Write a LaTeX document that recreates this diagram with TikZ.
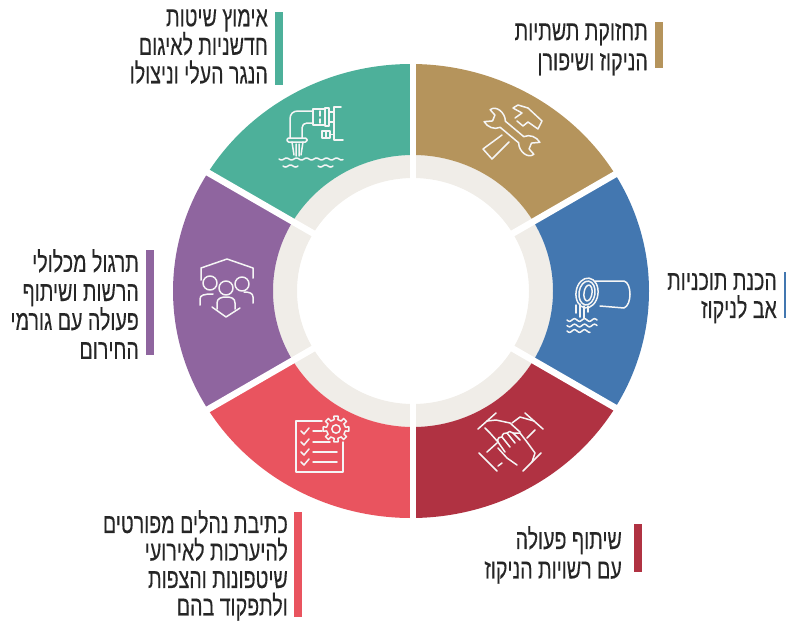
\documentclass[tikz,border=0pt]{standalone}
\usepackage{fontspec}
\TeXXeTstate=1
\newfontfamily\hebfont[Script=Hebrew,FakeStretch=0.7,FakeBold=0.2]{Liberation Sans}
\definecolor{cgold}{HTML}{B5945C}
\definecolor{cblue}{HTML}{4377B0}
\definecolor{cdred}{HTML}{B03242}
\definecolor{ccoral}{HTML}{E9545F}
\definecolor{cpurple}{HTML}{8F659F}
\definecolor{cteal}{HTML}{4DB09A}
\definecolor{cbeige}{HTML}{F0EDE8}
\definecolor{ctext}{HTML}{262626}
\newcommand{\hl}[1]{\beginR #1\endR}
% colour, inner start/end angle, outer start/end angle
\newcommand{\segm}[5]{\fill[#1] ([xshift=-2pt]#4:238 and 227) arc[start angle=#4,end angle=#5,x radius=238,y radius=227] -- (#3:140 and 136) arc[start angle=#3,end angle=#2,x radius=140,y radius=136] -- cycle;}
\newcommand{\wavy}[4]{\draw plot[domain=0:#3,samples=50] ({#1+\x},{#2+#4*sin(\x*36)});}
\tikzset{
  lab/.style={anchor=north east,inner sep=0pt,align=right,text=ctext},
  ico/.style={draw=white!92!gray,line width=1.5pt,line join=round,line cap=round},
  gapline/.style={draw=white,line width=6.5pt}
}
\begin{document}
\begin{tikzpicture}[x=1pt,y=1pt]
\useasboundingbox (0,0) rectangle (786,-621);
% wheel
\begin{scope}[shift={(413,-291)}]
\fill[cbeige,even odd rule] (0,0) ellipse[x radius=140,y radius=136] (0,0) ellipse[x radius=116,y radius=113];
\segm{cgold}{30}{90}{31}{90}
\segm{cblue}{-30}{30}{-31}{31}
\segm{cdred}{-90}{-30}{-90}{-31}
\segm{ccoral}{-150}{-90}{-148.5}{-90}
\segm{cpurple}{150}{210}{148.5}{211.5}
\segm{cteal}{90}{150}{90}{148.5}
\foreach \a in {30,90,150,210,270,330} \draw[gapline] (\a:100) -- (\a:260);
\end{scope}
% bars
\fill[cgold] (655,-22) rectangle (663,-68);
\fill[cteal] (275,-12) rectangle (283,-85);
\fill[cblue] (784,-272) rectangle (786,-318);
\fill[cpurple] (146,-250) rectangle (154,-355);
\fill[cdred] (634,-524) rectangle (642,-572);
\fill[ccoral] (294,-512) rectangle (302,-617);
% labels
\node[lab,font=\hebfont\fontsize{28}{30}\selectfont] (t1) at (648,-23) {\hl{תחזוקת תשתיות}\\\hl{הניקוז ושיפורן}};
\node[lab,font=\hebfont\fontsize{28}{28.5}\selectfont] (t2) at (268,-9) {\hl{אימוץ שיטות}\\\hl{חדשניות לאיגום}\\\hl{הנגר העלי וניצולו}};
\node[lab,font=\hebfont\fontsize{28}{28}\selectfont] (t3) at (777,-273) {\hl{הכנת תוכניות}\\\hl{אב לניקוז}};
\node[lab,font=\hebfont\fontsize{28}{29}\selectfont] (t4) at (139,-249) {\hl{תרגול מכלולי}\\\hl{הרשות ושיתוף}\\\hl{פעולה עם גורמי}\\\hl{החירום}};
\node[lab,font=\hebfont\fontsize{28}{29.5}\selectfont] (t5) at (622,-526) {\hl{שיתוף פעולה}\\\hl{עם רשויות הניקוז}};
\node[lab,font=\hebfont\fontsize{28}{27.5}\selectfont] (t6) at (288,-510) {\hl{כתיבת נהלים מפורטים}\\\hl{להיערכות לאירועי}\\\hl{שיטפונות והצפות}\\\hl{ולתפקוד בהם}};
% icons, pixel coordinates
\begin{scope}[x=1pt,y=-1pt,ico]
% tools: wrench
\begin{scope}[shift={(512,132)},rotate=-40]
\draw (-12,-4) -- (12,-4) .. controls (15,-10) and (22,-12) .. (28,-10) -- (22,-4) -- (24,2) -- (31,3) .. controls (30,10) and (18,11) .. (12,4) -- (-12,4) .. controls (-15,10) and (-22,12) .. (-28,10) -- (-22,4) -- (-24,-2) -- (-31,-3) .. controls (-30,-10) and (-18,-11) .. (-12,-4) -- cycle;
\end{scope}
% tools: hammer
\draw (502,135) -- (483,149) -- (492,159) -- (509,142);
\draw (515,118) -- (522,113) -- (513,108) -- (518,105) -- (528,108) -- (542,121) -- (538,129) -- (528,122) -- (523,126) -- (517,121);
% drain pipe (blue)
\draw[rotate around={-8:(587,293)}] (587,293) ellipse[x radius=11,y radius=15];
\draw[rotate around={-8:(587,293)}] (587,293) ellipse[x radius=8,y radius=12];
\draw[rotate around={-8:(588,293)}] (588,293) ellipse[x radius=4,y radius=8];
\draw (595,281) -- (624,281) .. controls (632,283) and (632,305) .. (624,308) -- (600,306);
\draw (580,304) -- (580,317) (584,306) -- (584,318) (576,305) -- (576,313) (588,306) -- (588,312);
\wavy{567}{320}{30}{1.3}
\wavy{567}{325.5}{30}{1.3}
\wavy{567}{331}{23}{1.3}
% hands (dark red)
\draw (478,429) -- (496,413) (525,413) -- (543,429) (479,453) -- (497,471) (523,471) -- (541,453);
\draw (487,421) -- (496,420) -- (510,423) -- (520,432);
\draw (485,428) -- (490,433) -- (498,442);
\draw (534,421) -- (520,417) -- (512,423) (535,430) -- (527,438);
\draw (532,462) -- (535,453) -- (527,442) -- (520,433);
\draw (517,465) -- (507,458) -- (498,448);
\draw (487,452) -- (497,443) (502,463) -- (498,466);
\draw (498,442) .. controls (497,438) and (500,436) .. (502,437) .. controls (502,434) and (505,432) .. (507,433) .. controls (508,431) and (511,431) .. (513,433) -- (520,433);
\draw (498,442) -- (505,452) (502,437) -- (510,447) (507,433) -- (515,443) (513,433) -- (520,440);
% checklist (coral)
\draw (322,421) -- (296,421) -- (296,472) -- (343,472) -- (343,442);
\foreach \yy/\xe in {431/322,442/330,452/337,462/337}{
  \draw (301,\yy) -- (304,\yy+3) -- (309,\yy-3);
  \draw (313,\yy) -- (\xe,\yy);
}
\begin{scope}[shift={(336,429)},y=1pt]
\foreach \r in {0,45,...,315}{
  \begin{scope}[rotate=\r]
  \draw (-12:9.5) -- (-9:13) -- (9:13) -- (12:9.5) arc[start angle=12,end angle=33,radius=9.5];
  \end{scope}
}
\draw (0,0) circle[radius=4.2];
\end{scope}
% people and shield (purple)
\draw (201,280) -- (201,268) -- (227,259) -- (253,268) -- (253,278);
\draw (210,283) circle[radius=7] (226,288) circle[radius=7] (242,284) circle[radius=7];
\draw (200,305) -- (200,299) .. controls (200,295) and (204,294) .. (213,294);
\draw (253,303) -- (253,297) .. controls (253,293) and (249,292) .. (244,292);
\draw (217,309) -- (217,303) .. controls (217,298) and (222,297) .. (226,297) .. controls (231,297) and (235,298) .. (235,303) -- (235,309);
\draw (212,307) -- (226,317) -- (240,308);
% discharge pipe (teal)
\draw (290,138) -- (290,119) .. controls (290,114) and (293,111) .. (298,111) -- (313,111);
\draw (302,138) -- (302,128) .. controls (302,125) and (304,123) .. (307,123) -- (313,123);
\draw[rounded corners=1.5pt] (287,138) rectangle (307,142);
\draw (313,109) rectangle (325,125);
\draw (325,108) rectangle (329,126);
\draw (320,111) -- (320,116) (320,119) -- (320,123);
\draw (341,107) -- (334,107) -- (334,140) -- (343,140);
\draw (329,112) -- (334,112) (329,122) -- (334,122);
\draw (322,131) rectangle (330,138);
\draw (326,131) -- (326,138) (330,134.5) -- (334,134.5);
\draw (292,142) -- (294,155) (303,142) -- (301,155) (296,144) -- (296,156) (299,144) -- (299,156);
\wavy{279}{159}{64}{1}
\wavy{283}{166}{15}{1}
\wavy{318}{166}{15}{1}
\end{scope}
\end{tikzpicture}
\end{document}
